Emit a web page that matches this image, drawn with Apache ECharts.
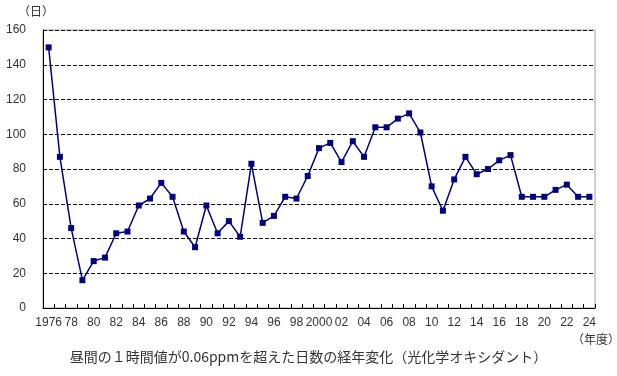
<!DOCTYPE html>
<html>
<head>
<meta charset="utf-8">
<script src="https://cdn.jsdelivr.net/npm/echarts@6/dist/echarts.min.js"></script>
<style>
  html, body { margin: 0; padding: 0; background: #fff; }
  #chart { width: 617px; height: 376px; }
</style>
</head>
<body>
<div id="chart"></div>
<script>
// 年度
var years = ['1976','1977','1978','1979','1980','1981','1982','1983','1984','1985',
  '1986','1987','1988','1989','1990','1991','1992','1993','1994','1995',
  '1996','1997','1998','1999','2000','2001','2002','2003','2004','2005',
  '2006','2007','2008','2009','2010','2011','2012','2013','2014','2015',
  '2016','2017','2018','2019','2020','2021','2022','2023','2024'];
// 0.06ppmを超えた日数
var days = [150, 87, 46, 16, 27, 29, 43, 44, 59, 63,
  72, 64, 44, 35, 59, 43, 50, 41, 83, 49,
  53, 64, 63, 76, 92, 95, 84, 96, 87, 104,
  104, 109, 112, 101, 70, 56, 74, 87, 77, 80,
  85, 88, 64, 64, 64, 68, 71, 64, 64];
var yTicks = [0, 20, 40, 60, 80, 100, 120, 140, 160];

var font = '"Liberation Sans", "Noto Sans CJK JP", sans-serif';
var jpFont = '"Noto Sans CJK JP", sans-serif';

var chart = echarts.init(document.getElementById('chart'), null, {renderer: 'canvas'});
chart.setOption({
  animation: false,
  grid: {
    left: 43, right: 22, top: 30, bottom: 68,
    show: true, borderColor: '#a0a0a0', borderWidth: 1
  },
  xAxis: {
    type: 'category',
    data: years,
    boundaryGap: true,
    axisLine: { lineStyle: { color: '#000', width: 1 } },
    axisTick: { show: true, inside: true, length: 4, interval: 0,
      lineStyle: { color: '#000' } },
    axisLabel: {
      interval: 1, margin: 9, color: '#333', fontFamily: font, fontSize: 12,
      formatter: function (v) {
        return (v === '1976' || v === '2000') ? v : v.slice(2);
      }
    },
    splitLine: { show: false }
  },
  yAxis: {
    type: 'value',
    min: yTicks[0], max: yTicks[yTicks.length - 1], interval: 20,
    axisLine: { show: true, lineStyle: { color: '#000', width: 1 } },
    axisTick: { show: false },
    axisLabel: { margin: 17, color: '#333', fontFamily: font, fontSize: 12 },
    splitLine: { lineStyle: { color: '#111', type: [4, 2], width: 1.2 } }
  },
  graphic: [
    { type: 'text', left: 18, top: 5,
      style: { text: '（日）', fill: '#333', font: '12px ' + jpFont } },
    { type: 'text', left: 572, top: 333,
      style: { text: '（年度）', fill: '#333', font: '12px ' + jpFont } },
    { type: 'text', left: 'center', top: 350,
      style: { text: '昼間の１時間値が0.06ppmを超えた日数の経年変化（光化学オキシダント）',
        fill: '#333', font: '14px ' + jpFont } }
  ],
  series: [{
    type: 'line',
    data: days,
    symbol: 'rect',
    symbolSize: 6,
    itemStyle: { color: '#000080' },
    lineStyle: { color: '#000080', width: 1.5 }
  }]
});
</script>
</body>
</html>
